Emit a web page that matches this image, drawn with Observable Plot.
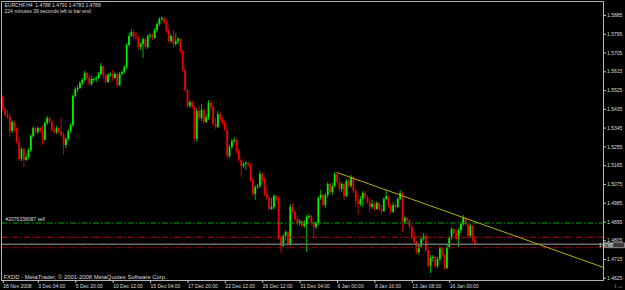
<!DOCTYPE html>
<html>
<head>
<meta charset="utf-8">
<script src="https://cdn.jsdelivr.net/npm/d3@7"></script>
<script src="https://cdn.jsdelivr.net/npm/@observablehq/plot@0.6"></script>
<style>
  html, body { margin: 0; padding: 0; background: #000; }
  #chart { width: 625px; height: 290px; overflow: hidden; }
</style>
</head>
<body>
<div id="chart"></div>
<script>
// ---- data (EURCHF, H4) ----
const symbol = "EURCHF,H4";
const firstOpen = 1.5492;
const closes = [
1.5434,1.5406,1.5396,1.5329,1.5372,1.5343,1.5276,1.5195,1.5243,1.5190,
1.5204,1.5238,1.5305,1.5343,1.5324,1.5343,1.5329,1.5286,1.5367,1.5391,
1.5372,1.5334,1.5324,1.5343,1.5324,1.5310,1.5262,1.5291,1.5329,1.5358,
1.5497,1.5530,1.5535,1.5559,1.5573,1.5607,1.5583,1.5554,1.5578,1.5578,
1.5583,1.5602,1.5641,1.5597,1.5564,1.5597,1.5602,1.5583,1.5602,1.5549,
1.5602,1.5612,1.5636,1.5741,1.5784,1.5803,1.5780,1.5775,1.5732,1.5746,
1.5770,1.5732,1.5784,1.5789,1.5775,1.5813,1.5842,1.5866,1.5871,1.5851,
1.5808,1.5760,1.5784,1.5746,1.5760,1.5770,1.5712,1.5621,1.5525,1.5449,
1.5468,1.5444,1.5291,1.5425,1.5391,1.5430,1.5372,1.5396,1.5463,1.5444,
1.5362,1.5348,1.5410,1.5382,1.5367,1.5334,1.5209,1.5252,1.5281,1.5286,
1.5233,1.5190,1.5161,1.5171,1.5176,1.5166,1.5094,1.5027,1.5060,1.5065,
1.5123,1.5094,1.5027,1.5008,1.4955,1.4965,1.5017,1.5003,1.4816,1.4778,
1.4826,1.4845,1.4782,1.4965,1.4941,1.4907,1.4888,1.4897,1.4874,1.4883,
1.4917,1.4921,1.4888,1.4869,1.4888,1.5008,1.5022,1.4974,1.5022,1.5075,
1.5036,1.5065,1.5123,1.5084,1.5051,1.5075,1.5017,1.5089,1.5065,1.5108,
1.5041,1.4993,1.4979,1.5003,1.5032,1.5012,1.4988,1.4965,1.4979,1.4955,
1.4984,1.4955,1.4945,1.5003,1.5017,1.4969,1.4941,1.4974,1.4965,1.5003,
1.5032,1.4893,1.4912,1.4902,1.4869,1.4821,1.4797,1.4749,1.4778,1.4811,
1.4826,1.4758,1.4682,1.4720,1.4725,1.4682,1.4715,1.4768,1.4734,1.4672,
1.4773,1.4816,1.4859,1.4840,1.4811,1.4854,1.4883,1.4912,1.4883,1.4826,
1.4874,1.4806,1.4788,1.4788
];
const highs = [
1.5501,1.5444,1.5430,1.5415,1.5382,1.5377,1.5348,1.5295,1.5252,1.5247,
1.5219,1.5247,1.5314,1.5353,1.5348,1.5353,1.5348,1.5358,1.5377,1.5401,
1.5396,1.5382,1.5348,1.5353,1.5348,1.5396,1.5324,1.5300,1.5339,1.5367,
1.5506,1.5540,1.5549,1.5569,1.5583,1.5617,1.5612,1.5597,1.5593,1.5588,
1.5593,1.5612,1.5655,1.5641,1.5602,1.5607,1.5612,1.5621,1.5612,1.5607,
1.5612,1.5621,1.5645,1.5751,1.5799,1.5818,1.5813,1.5803,1.5784,1.5756,
1.5780,1.5775,1.5794,1.5799,1.5799,1.5823,1.5851,1.5875,1.5880,1.5875,
1.5861,1.5818,1.5794,1.5813,1.5799,1.5780,1.5775,1.5717,1.5626,1.5530,
1.5477,1.5477,1.5449,1.5439,1.5449,1.5458,1.5439,1.5410,1.5477,1.5473,
1.5454,1.5391,1.5425,1.5420,1.5396,1.5382,1.5367,1.5262,1.5291,1.5300,
1.5291,1.5243,1.5199,1.5180,1.5185,1.5180,1.5171,1.5104,1.5070,1.5075,
1.5137,1.5132,1.5108,1.5060,1.5022,1.5008,1.5027,1.5022,1.5012,1.4826,
1.4835,1.4854,1.4850,1.4979,1.4984,1.4950,1.4921,1.4907,1.4902,1.4902,
1.4926,1.4931,1.4926,1.4897,1.4897,1.5017,1.5046,1.5027,1.5032,1.5084,
1.5080,1.5080,1.5132,1.5132,1.5104,1.5084,1.5080,1.5099,1.5099,1.5118,
1.5113,1.5051,1.5027,1.5017,1.5041,1.5041,1.5022,1.5008,1.4998,1.4988,
1.4993,1.4988,1.4974,1.5012,1.5046,1.5017,1.4979,1.4988,1.4984,1.5012,
1.5046,1.5036,1.4921,1.4917,1.4907,1.4874,1.4845,1.4802,1.4787,1.4821,
1.4840,1.4840,1.4758,1.4734,1.4734,1.4730,1.4725,1.4778,1.4773,1.4739,
1.4787,1.4826,1.4869,1.4864,1.4850,1.4864,1.4893,1.4926,1.4917,1.4893,
1.4883,1.4878,1.4816,1.4791
];
const lows = [
1.5425,1.5396,1.5386,1.5300,1.5319,1.5324,1.5267,1.5185,1.5185,1.5156,
1.5185,1.5195,1.5228,1.5295,1.5314,1.5314,1.5319,1.5262,1.5281,1.5358,
1.5362,1.5324,1.5314,1.5314,1.5314,1.5300,1.5214,1.5247,1.5281,1.5319,
1.5348,1.5487,1.5516,1.5530,1.5549,1.5569,1.5573,1.5545,1.5545,1.5564,
1.5564,1.5578,1.5593,1.5578,1.5554,1.5559,1.5588,1.5569,1.5578,1.5540,
1.5545,1.5597,1.5607,1.5626,1.5736,1.5780,1.5770,1.5765,1.5717,1.5717,
1.5679,1.5722,1.5722,1.5775,1.5765,1.5770,1.5803,1.5832,1.5856,1.5842,
1.5799,1.5751,1.5751,1.5727,1.5736,1.5746,1.5703,1.5612,1.5516,1.5439,
1.5439,1.5434,1.5281,1.5276,1.5377,1.5377,1.5362,1.5367,1.5382,1.5430,
1.5353,1.5339,1.5343,1.5372,1.5358,1.5329,1.5199,1.5199,1.5243,1.5271,
1.5223,1.5180,1.5113,1.5152,1.5142,1.5156,1.5084,1.5017,1.4998,1.5051,
1.5056,1.5084,1.5017,1.4998,1.4945,1.4950,1.4955,1.4993,1.4806,1.4744,
1.4773,1.4806,1.4763,1.4778,1.4931,1.4897,1.4878,1.4874,1.4864,1.4864,
1.4749,1.4907,1.4878,1.4816,1.4859,1.4878,1.4998,1.4965,1.4960,1.5008,
1.5027,1.5022,1.5060,1.5075,1.5041,1.5036,1.4998,1.5012,1.5056,1.5056,
1.5032,1.4965,1.4926,1.4969,1.4965,1.5003,1.4979,1.4936,1.4955,1.4945,
1.4950,1.4945,1.4931,1.4941,1.4998,1.4960,1.4931,1.4936,1.4955,1.4960,
1.4998,1.4845,1.4883,1.4888,1.4859,1.4811,1.4787,1.4739,1.4734,1.4768,
1.4802,1.4749,1.4672,1.4648,1.4701,1.4672,1.4672,1.4706,1.4725,1.4662,
1.4667,1.4763,1.4806,1.4830,1.4802,1.4768,1.4840,1.4874,1.4874,1.4816,
1.4816,1.4797,1.4778,1.4783
];
// price axis ticks
const yTicks = [1.4625,1.4715,1.4805,1.4895,1.4985,1.5075,1.5165,1.5255,1.5345,1.5435,1.5525,1.5615,1.5705,1.5795,1.5885];
// time axis: bar index of each label and its text
const xTickIndex = [0,15,31,47,63,79,95,111,127,143,159,175,191];
const xTickLabel = ["28 Nov 2008","3 Dec 04:00","5 Dec 20:00","10 Dec 12:00","15 Dec 04:00","17 Dec 20:00","22 Dec 12:00","26 Dec 12:00","31 Dec 04:00","6 Jan 00:00","8 Jan 16:00","13 Jan 08:00","16 Jan 00:00"];
// levels
const bid = 1.4788;
const orderLevel = 1.4890;      // #2076338087 sell
const stopLevel = 1.4822;
const lowerLevel = 1.4772;
const orderLabel = "#2076338087 sell";
// trend line: bar index and price of its two anchor points
const trendBars = [143, 257];
const trendPrices = [1.5132, 1.4677];
const lastBar = {open: 1.4788, high: 1.4791, low: 1.4783, close: 1.4788};
const barsLeftText = "224 minutes 39 seconds left to bar end";
const copyright = "FXDD - MetaTrader, \u00A9 2001-2008 MetaQuotes Software Corp.";

// ---- build table ----
const bars = closes.map((c, i) => ({
  i, open: i === 0 ? firstOpen : closes[i - 1], close: c, high: highs[i], low: lows[i]
}));
bars.forEach(d => d.up = d.close >= d.open);
const trend = trendBars.map((b, k) => ({i: b, p: trendPrices[k]}));
const dojis = bars.filter(d => d.open === d.close);

const titleText = `${symbol}  ${lastBar.open.toFixed(4)} ${lastBar.high.toFixed(4)} ${lastBar.low.toFixed(4)} ${lastBar.close.toFixed(4)}`;
const font = "Liberation Sans, Arial, sans-serif";
const textColor = "#dcdcdc";

const chart = Plot.plot({
  width: 625,
  height: 290,
  marginLeft: 1,
  marginRight: 22,
  marginTop: 1,
  marginBottom: 10,
  style: {background: "#000", color: "#c8c8c8", fontFamily: font, fontSize: "5px"},
  x: {type: "linear", domain: [-0.556, 257], axis: null},
  y: {domain: [1.46145, 1.59521], axis: null},
  marks: [
    // wicks
    Plot.ruleX(bars, {x: "i", y1: "low", y2: "high", stroke: d => d.up ? "#00b000" : "#c00000", strokeWidth: 1}),
    // bodies
    Plot.ruleX(bars, {x: "i", y1: "open", y2: "close", stroke: d => d.up ? "#00f000" : "#f00000", strokeWidth: 1.8}),
    Plot.ruleY(dojis, {y: "close", x1: d => d.i - 0.45, x2: d => d.i + 0.45, stroke: "#00f000", strokeWidth: 1}),
    // level lines
    Plot.ruleY([orderLevel], {stroke: "#00a800", strokeDasharray: "6,2,1.5,2"}),
    Plot.ruleY([stopLevel], {stroke: "#c80000", strokeDasharray: "6,2,1.5,2"}),
    Plot.ruleY([bid], {stroke: "#6e6e6e", strokeWidth: 1.6}),
    Plot.ruleY([lowerLevel], {stroke: "#780000", strokeWidth: 1.2, strokeDasharray: "6,2,1.5,2"}),
    // trend line
    Plot.line(trend, {x: "i", y: "p", stroke: "#b4b000", strokeWidth: 1, clip: true}),
    // texts
    Plot.text([orderLabel], {y: [orderLevel], frameAnchor: "left", dx: 4, dy: -4, textAnchor: "start", fill: textColor, fontSize: 5}),
    Plot.text([titleText], {frameAnchor: "top-left", dx: 3, dy: 2, lineAnchor: "top", textAnchor: "start", fill: textColor, fontSize: 5}),
    Plot.text([barsLeftText], {frameAnchor: "top-left", dx: 3, dy: 8, lineAnchor: "top", textAnchor: "start", fill: textColor, fontSize: 5}),
    Plot.text([copyright], {frameAnchor: "bottom-left", dx: 2, dy: -2, lineAnchor: "bottom", textAnchor: "start", fill: textColor, fontSize: 5.9}),
    // frame and axes
    Plot.frame({stroke: "#b4b4b4"}),
    Plot.axisY(yTicks, {anchor: "right", tickSize: 2, tickPadding: 1.5, tickFormat: d => d.toFixed(4), fontSize: 5, fill: textColor}),
    Plot.axisX(xTickIndex, {anchor: "bottom", tickSize: 3, tickPadding: 1, textAnchor: "start", dx: 0.5,
      tickFormat: d => xTickLabel[xTickIndex.indexOf(d)], fontSize: 5, fill: textColor})
  ]
});

// bid label box on the price axis
const yScale = chart.scale("y");
const yb = yScale.apply(bid);
const svg = d3.select(chart);
const g = svg.append("g");
g.append("rect").attr("x", 603.5).attr("y", yb - 1).attr("width", 21).attr("height", 5)
  .attr("fill", "#3a3a3a").attr("stroke", "#c8c8c8").attr("stroke-width", 0.6);
g.append("text").attr("x", 606).attr("y", yb + 1.5).attr("dy", "0.35em")
  .attr("fill", "#ffffff").attr("font-size", 4.6).attr("font-family", font).text(bid.toFixed(4));

document.getElementById("chart").appendChild(chart);
</script>
</body>
</html>
